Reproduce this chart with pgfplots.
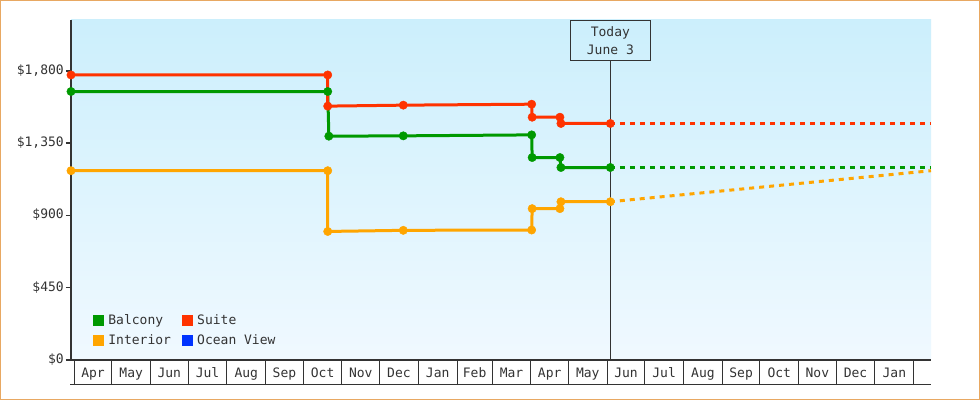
\documentclass[border=0pt]{standalone}
\usepackage{fontspec}
\setmainfont{DejaVu Sans Mono}
\usepackage{pgfplots}
\pgfplotsset{compat=1.18}
\definecolor{balcony}{HTML}{009900}
\definecolor{suite}{HTML}{FF3300}
\definecolor{interior}{HTML}{FFA500}
\definecolor{oceanview}{HTML}{0033FF}
\definecolor{axisgray}{HTML}{333333}
\definecolor{bgtop}{HTML}{CCEFFC}
\definecolor{bgbot}{HTML}{F0F9FF}
\definecolor{frame}{HTML}{E8A862}
\pgfplotsset{
  legsq/.style={legend image code/.code={
    \fill[draw=none] (0bp,-5.5bp) rectangle (11bp,5.5bp);
    \path (13bp,0bp);}},
  price/.style={line width=3bp, mark=*, mark size=4.2bp, mark options={solid, line width=0.4bp}},
  proj/.style={line width=3bp, dash pattern=on 5bp off 5bp, dash phase=0.5bp, forget plot},
}
\begin{document}
\fontsize{13bp}{18bp}\selectfont
\begin{tikzpicture}
\useasboundingbox (0,0) rectangle (980bp,400bp);
\fill[white] (0,0) rectangle (980bp,400bp);
\draw[frame, line width=1bp] (0.5bp,0.5bp) rectangle (979.5bp,399.5bp);
\begin{axis}[
  at={(71bp,40bp)}, anchor=south west,
  scale only axis, width=860bp, height=340bp,
  xmin=-2.6, xmax=684.8, ymin=0, ymax=2116,
  clip=false,
  axis lines=left,
  x axis line style={-, line width=1.5bp, draw=axisgray},
  y axis line style={-, line width=2.3bp, draw=axisgray},
  axis background/.style={top color=bgtop, bottom color=bgbot},
  tick align=outside,
  major tick length=5bp,
  minor tick length=25bp,
  tick label style={text=axisgray},
  typeset ticklabels with strut,
  ytick={0,450,900,1350,1800},
  yticklabels={\$0,\$450,\$900,{\$1,350},{\$1,800}},
  ytick style={line width=1.5bp, draw=axisgray},
  yticklabel style={inner xsep=2bp},
  xtick={15,45.5,76,106.5,137.5,168,198.5,229,259.5,290.5,320,349.5,380,410.5,441,471.5,502.5,533,563.5,594,624.5,655.5},
  xticklabels={Apr,May,Jun,Jul,Aug,Sep,Oct,Nov,Dec,Jan,Feb,Mar,Apr,May,Jun,Jul,Aug,Sep,Oct,Nov,Dec,Jan},
  major x tick style={draw=none},
  minor xtick={0,30,61,91,122,153,183,214,244,275,306,334,365,395,426,456,487,518,548,579,609,640,671},
  minor x tick style={line width=1bp, draw=axisgray},
  xticklabel style={anchor=center, yshift=-9bp},
  legend columns=2,
  legend cell align=left,
  legend style={at={(0.0256,0.14)}, anchor=north west, draw=none, fill=none,
    inner sep=0pt, text=axisgray, row sep=4bp,
    /tikz/every even column/.append style={column sep=9bp}},
]
\addlegendimage{legsq, fill=balcony}
\addlegendentry{Balcony}
\addlegendimage{legsq, fill=suite}
\addlegendentry{Suite}
\addlegendimage{legsq, fill=interior}
\addlegendentry{Interior}
\addlegendimage{legsq, fill=oceanview}
\addlegendentry{Ocean View}

\node[draw=axisgray, line width=1bp, minimum width=80bp, minimum height=40bp,
  align=center, anchor=north, inner sep=0pt, text=axisgray]
  (today) at (axis cs:428.5,2116) {Today\\June 3};
\draw[axisgray, line width=1bp] (today.south) -- (axis cs:428.5,0);

% Interior
\addplot[interior, price, forget plot] coordinates {
  (-2.6,1178) (202.6,1178) (202.6,800) (263,807) (365.6,809)
  (366,942) (388.2,942) (389,985) (428.5,985)};
\addplot[interior, proj] coordinates {(428.5,985) (684.8,1178)};
% Balcony
\addplot[balcony, price, forget plot] coordinates {
  (-2.6,1671) (202.6,1671) (203.5,1393) (263,1395) (365.6,1401)
  (366,1260) (388.2,1260) (389,1198) (428.5,1198)};
\addplot[balcony, proj] coordinates {(428.5,1198) (684.8,1198)};
% Suite
\addplot[suite, price, forget plot] coordinates {
  (-2.6,1774) (202.6,1774) (202.6,1580) (263,1586) (365.6,1592)
  (366,1511) (388.2,1511) (389,1472) (428.5,1472)};
\addplot[suite, proj] coordinates {(428.5,1472) (684.8,1472)};
\end{axis}
\draw[axisgray, line width=1bp] (70bp,15bp) -- (931bp,15bp);
\end{tikzpicture}
\end{document}
